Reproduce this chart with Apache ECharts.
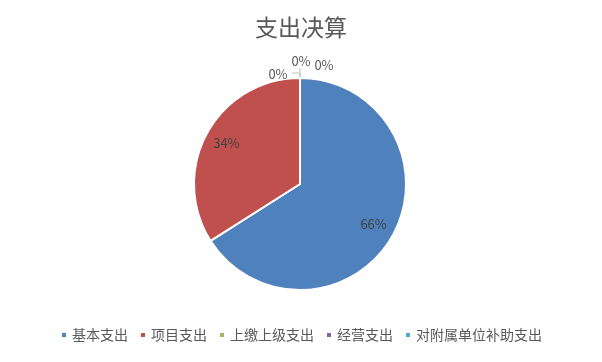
<!DOCTYPE html>
<html>
<head>
<meta charset="utf-8">
<script src="https://cdn.jsdelivr.net/npm/echarts@6/dist/echarts.min.js"></script>
<style>
  html, body { margin: 0; padding: 0; background: #fff; }
  #main { width: 602px; height: 362px; }
</style>
</head>
<body>
<div id="main"></div>
<script>
// 支出决算
var categories = ["基本支出", "项目支出", "上缴上级支出", "经营支出", "对附属单位补助支出"];
var values = [66, 34, 0, 0, 0];
var colors = ["#4F81BD", "#C0504D", "#9BBB59", "#8064A2", "#4BACC6"];

var cx = 300, cy = 184, r = 106;
var myChart = echarts.init(document.getElementById("main"));

var list = [];
for (var i = 0; i < categories.length; i++) {
  var item = { name: categories[i], value: values[i] };
  if (values[i] > 0) {
    item.label = { position: "inside", color: "#404040" };
    item.labelLine = { show: false };
  }
  list.push(item);
}

// 零值标签挤在顶部，手动错开
var zeroSpots = {
  2: { x: cx - 22, y: cy - 110, line: [[cx, cy - r], [cx, cy - 111], [cx - 8, cy - 111]] },
  3: { x: cx + 1, y: cy - 123, line: [[cx, cy - r], [cx, cy - 116]] },
  4: { x: cx + 24, y: cy - 119, line: null },
};

var option = {
  title: {
    text: "支出决算",
    left: "center",
    top: 11,
    textStyle: {
      fontFamily: "Noto Sans CJK SC",
      fontSize: 23,
      fontWeight: "normal",
      color: "#595959",
    },
  },
  color: colors,
  legend: {
    bottom: 15,
    left: "center",
    itemWidth: 6,
    itemHeight: 6,
    itemGap: 11,
    icon: "rect",
    textStyle: {
      fontFamily: "Noto Sans CJK SC",
      fontSize: 14,
      color: "#595959",
    },
    data: categories,
  },
  series: [
    {
      name: "支出决算",
      type: "pie",
      center: [cx, cy],
      radius: r,
      startAngle: 90,
      clockwise: true,
      avoidLabelOverlap: false,
      data: list,
      itemStyle: {
        borderColor: "#fff",
        borderWidth: 2,
      },
      label: {
        show: true,
        formatter: "{d}%",
        fontFamily: "Noto Sans CJK SC",
        fontSize: 13,
        color: "#595959",
        position: "outside",
      },
      labelLine: {
        show: true,
        length: 6,
        length2: 8,
        lineStyle: { color: "#bfbfbf", width: 1 },
      },
      labelLayout: function (params) {
        var rect = params.labelRect;
        var spot = zeroSpots[params.dataIndex];
        if (spot) {
          return {
            x: spot.x,
            y: spot.y,
            align: "center",
            verticalAlign: "middle",
            labelLinePoints: spot.line || [[cx, cy - r], [cx, cy - r]],
          };
        }
        // 内部标签往外推一些
        var mx = rect.x + rect.width / 2 - cx;
        var my = rect.y + rect.height / 2 - cy;
        return {
          x: cx + mx * 1.5,
          y: cy + my * 1.5,
          align: "center",
          verticalAlign: "middle",
        };
      },
      emphasis: { scale: false },
    },
  ],
};

myChart.setOption(option);
</script>
</body>
</html>
